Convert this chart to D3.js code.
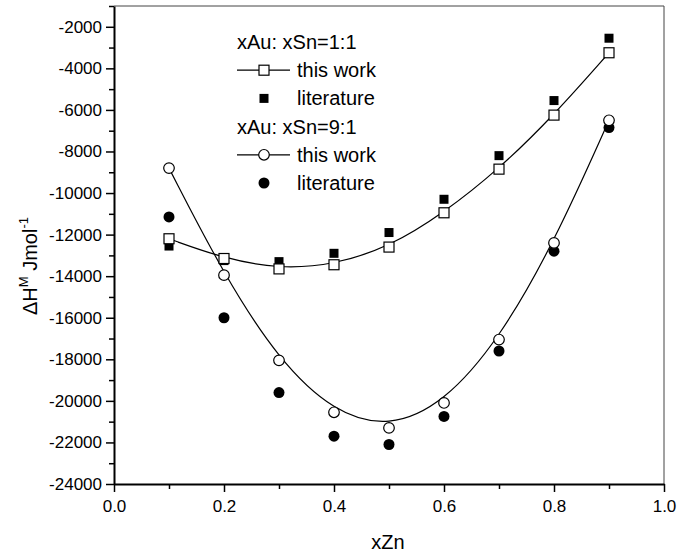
<!DOCTYPE html>
<html>
<head>
<meta charset="utf-8">
<script src="https://cdn.jsdelivr.net/npm/d3@7"></script>
<style>
  body { margin: 0; background: #fff; }
  text { font-family: "Liberation Sans", Arial, sans-serif; fill: #000; }
</style>
</head>
<body>
<script>
// composition values (xZn)
var xZn = [0.1, 0.2, 0.3, 0.4, 0.5, 0.6, 0.7, 0.8, 0.9]

// xAu:xSn = 1:1
var work11 = [-12200, -13150, -13650, -13450, -12600, -10950, -8850, -6250, -3250]
var lit11 = [-12550, -13250, -13300, -12900, -11900, -10300, -8200, -5550, -2550]

// xAu:xSn = 9:1
var work91 = [-8800, -13950, -18050, -20550, -21300, -20100, -17050, -12400, -6500]
var lit91 = [-11150, -16000, -19600, -21700, -22100, -20750, -17600, -12800, -6850]

var xTicks = [0.0, 0.2, 0.4, 0.6, 0.8, 1.0]
var xMinor = [0.1, 0.3, 0.5, 0.7, 0.9]
var yTicks = [-24000, -22000, -20000, -18000, -16000, -14000, -12000, -10000, -8000, -6000, -4000, -2000]
var yMinor = [-23000, -21000, -19000, -17000, -15000, -13000, -11000, -9000, -7000, -5000, -3000, -1000]

var legendRows = [
    {label: "xAu: xSn=1:1", kind: "header"},
    {label: "this work", kind: "openSquare"},
    {label: "literature", kind: "fillSquare"},
    {label: "xAu: xSn=9:1", kind: "header"},
    {label: "this work", kind: "openCircle"},
    {label: "literature", kind: "fillCircle"}
]

var width = 678, height = 560
var plotLeft = 114, plotRight = 664, plotTop = 6, plotBottom = 484

var svg = d3.select("body").append("svg")
    .attr("width", width)
    .attr("height", height)

var x = d3.scaleLinear().domain([0, 1]).range([plotLeft, plotRight])
var y = d3.scaleLinear().domain([-24000, -1000]).range([plotBottom, plotTop])

// frame, top and right thin
svg.append("line").attr("x1", plotLeft).attr("x2", plotRight).attr("y1", plotTop).attr("y2", plotTop)
    .attr("stroke", "#444").attr("stroke-width", 1)
svg.append("line").attr("x1", plotRight).attr("x2", plotRight).attr("y1", plotTop).attr("y2", plotBottom)
    .attr("stroke", "#444").attr("stroke-width", 1)

// minor ticks
svg.append("g").attr("transform", "translate(0," + plotBottom + ")")
    .call(d3.axisBottom(x).tickValues(xMinor).tickSize(5).tickFormat(""))
    .call(g => g.select(".domain").remove())
svg.append("g").attr("transform", "translate(" + plotLeft + ",0)")
    .call(d3.axisLeft(y).tickValues(yMinor).tickSize(5).tickFormat(""))
    .call(g => g.select(".domain").remove())

// major axes
svg.append("g").attr("transform", "translate(0," + plotBottom + ")")
    .call(d3.axisBottom(x).tickValues(xTicks).tickSize(8).tickSizeOuter(0).tickPadding(8)
        .tickFormat(d3.format(".1f")))
svg.append("g").attr("transform", "translate(" + plotLeft + ",0)")
    .call(d3.axisLeft(y).tickValues(yTicks).tickSize(8).tickSizeOuter(0).tickPadding(4)
        .tickFormat(d => String(d)))

svg.selectAll(".tick line").attr("stroke", "#000").attr("stroke-width", 1.5)
svg.selectAll(".domain").attr("stroke", "#000").attr("stroke-width", 2)
svg.selectAll(".tick text").style("font-family", "'Liberation Sans', Arial, sans-serif")
    .style("font-size", "17px").attr("fill", "#000")

// axis titles
svg.append("text")
    .attr("x", 388).attr("y", 549)
    .attr("text-anchor", "middle")
    .style("font-size", "20px")
    .text("xZn")

var yt = svg.append("text")
    .attr("transform", "translate(37,266) rotate(-90)")
    .attr("text-anchor", "middle")
    .style("font-size", "20px")
yt.append("tspan").text("\u0394H")
yt.append("tspan").attr("dy", -9).style("font-size", "13px").text("M")
yt.append("tspan").attr("dy", 9).text(" Jmol")
yt.append("tspan").attr("dy", -9).style("font-size", "13px").text("-1")

// curves
var line = d3.line()
    .x((d, i) => x(xZn[i]))
    .y(d => y(d))
    .curve(d3.curveBasis)

svg.append("path").datum(work11).attr("d", line)
    .attr("fill", "none").attr("stroke", "#000").attr("stroke-width", 1.2)
svg.append("path").datum(work91).attr("d", line)
    .attr("fill", "none").attr("stroke", "#000").attr("stroke-width", 1.2)

function drawMarker(g, kind, cx, cy) {
    if (kind == "openSquare") {
        g.append("rect").attr("x", cx - 5).attr("y", cy - 5).attr("width", 10).attr("height", 10)
            .attr("fill", "#fff").attr("stroke", "#000").attr("stroke-width", 1.2)
    } else if (kind == "fillSquare") {
        g.append("rect").attr("x", cx - 4.5).attr("y", cy - 4.5).attr("width", 9).attr("height", 9)
            .attr("fill", "#000")
    } else if (kind == "openCircle") {
        g.append("circle").attr("cx", cx).attr("cy", cy).attr("r", 5.3)
            .attr("fill", "#fff").attr("stroke", "#000").attr("stroke-width", 1.2)
    } else if (kind == "fillCircle") {
        g.append("circle").attr("cx", cx).attr("cy", cy).attr("r", 5.5)
            .attr("fill", "#000")
    }
}

var pts = svg.append("g")
lit11.forEach((v, i) => drawMarker(pts, "fillSquare", x(xZn[i]), y(v)))
lit91.forEach((v, i) => drawMarker(pts, "fillCircle", x(xZn[i]), y(v)))
work11.forEach((v, i) => drawMarker(pts, "openSquare", x(xZn[i]), y(v)))
work91.forEach((v, i) => drawMarker(pts, "openCircle", x(xZn[i]), y(v)))

// legend
var legend = svg.append("g")
legendRows.forEach(function (r, i) {
    var cy = 42 + i * 28.2
    if (r.kind == "header") {
        legend.append("text").attr("x", 237).attr("y", cy + 7)
            .style("font-size", "20px").text(r.label)
        return
    }
    if (r.kind == "openSquare" || r.kind == "openCircle") {
        legend.append("line").attr("x1", 237).attr("x2", 290).attr("y1", cy).attr("y2", cy)
            .attr("stroke", "#000").attr("stroke-width", 1.2)
    }
    drawMarker(legend, r.kind, 264, cy)
    legend.append("text").attr("x", 297).attr("y", cy + 7)
        .style("font-size", "20px").text(r.label)
})
</script>
</body>
</html>
